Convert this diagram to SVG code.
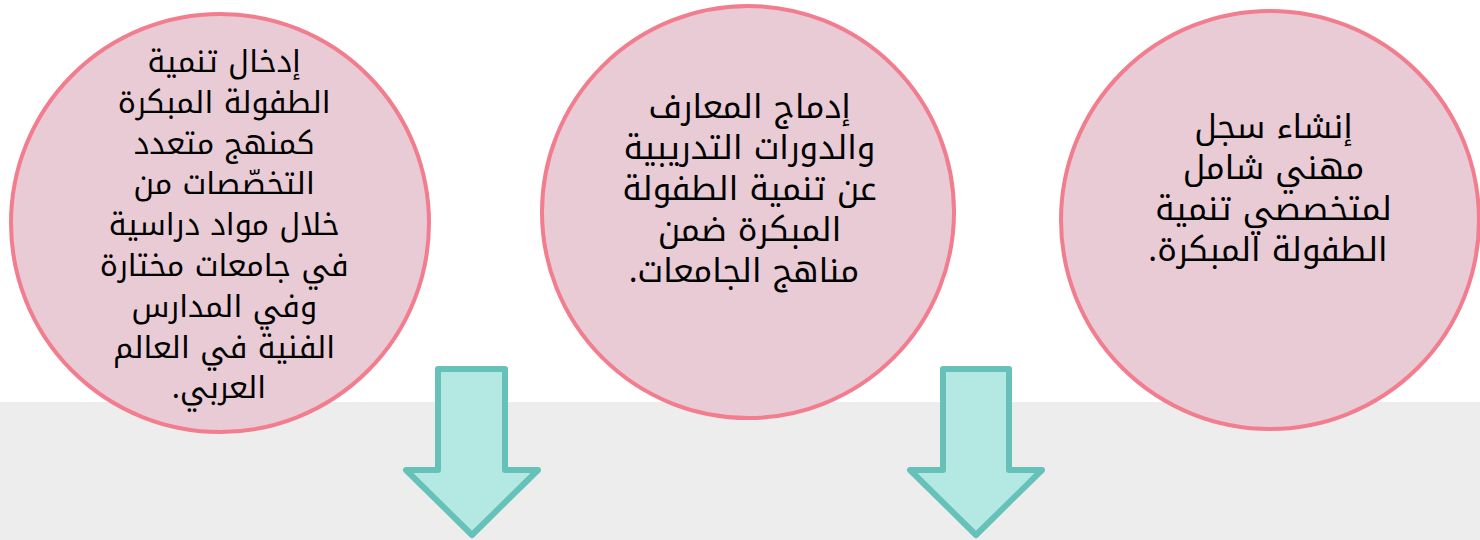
<svg xmlns="http://www.w3.org/2000/svg" width="1480" height="540" viewBox="0 0 1480 540">
<style>
.bg{fill:#ffffff}
.band{fill:#ededed}
.node{fill:#e8cbd5;stroke:#f27d8e;stroke-width:4}
.lbl{font-family:"Noto Kufi Arabic","DejaVu Sans",sans-serif;font-size:33px;fill:#000000;text-anchor:middle;direction:rtl}
.lbl.sm{font-size:30.5px}
.arrow{fill:#b3e8e3;stroke:#66c2b8;stroke-width:6;stroke-linejoin:round}
</style>
<rect class="bg" x="0" y="0" width="1480" height="540"/>
<rect class="band" x="0" y="402" width="1480" height="138"/>
<g id="node-left">
<circle class="node" cx="220" cy="223" r="209"/>
<text class="lbl sm" direction="rtl">
<tspan x="219" y="72">إدخال تنمية</tspan>
<tspan x="219" y="112.8">الطفولة المبكرة</tspan>
<tspan x="219" y="153.6">كمنهج متعدد</tspan>
<tspan x="219" y="194.4">التخصّصات من</tspan>
<tspan x="219" y="235.2">خلال مواد دراسية</tspan>
<tspan x="219" y="276">في جامعات مختارة</tspan>
<tspan x="219" y="316.8">وفي المدارس</tspan>
<tspan x="219" y="357.6">الفنية في العالم</tspan>
<tspan x="219" y="398.4">العربي.</tspan>
</text>
</g>
<g id="node-middle">
<circle class="node" cx="748" cy="212" r="206"/>
<text class="lbl" direction="rtl">
<tspan x="744" y="118">إدماج المعارف</tspan>
<tspan x="744" y="159">والدورات التدريبية</tspan>
<tspan x="744" y="200">عن تنمية الطفولة</tspan>
<tspan x="744" y="241">المبكرة ضمن</tspan>
<tspan x="744" y="282">مناهج الجامعات.</tspan>
</text>
</g>
<g id="node-right">
<circle class="node" cx="1270" cy="220" r="209"/>
<text class="lbl" direction="rtl">
<tspan x="1268" y="138">إنشاء سجل</tspan>
<tspan x="1268" y="179">مهني شامل</tspan>
<tspan x="1268" y="220">لمتخصصي تنمية</tspan>
<tspan x="1268" y="261">الطفولة المبكرة.</tspan>
</text>
</g>
<g id="connectors">
<path class="arrow" d="M438,369 H505 V470 H538 L472,535 L406,470 H438 Z"/>
<path class="arrow" d="M943,369 H1009 V470 H1042 L976,535 L910,470 H943 Z"/>
</g>
</svg>
